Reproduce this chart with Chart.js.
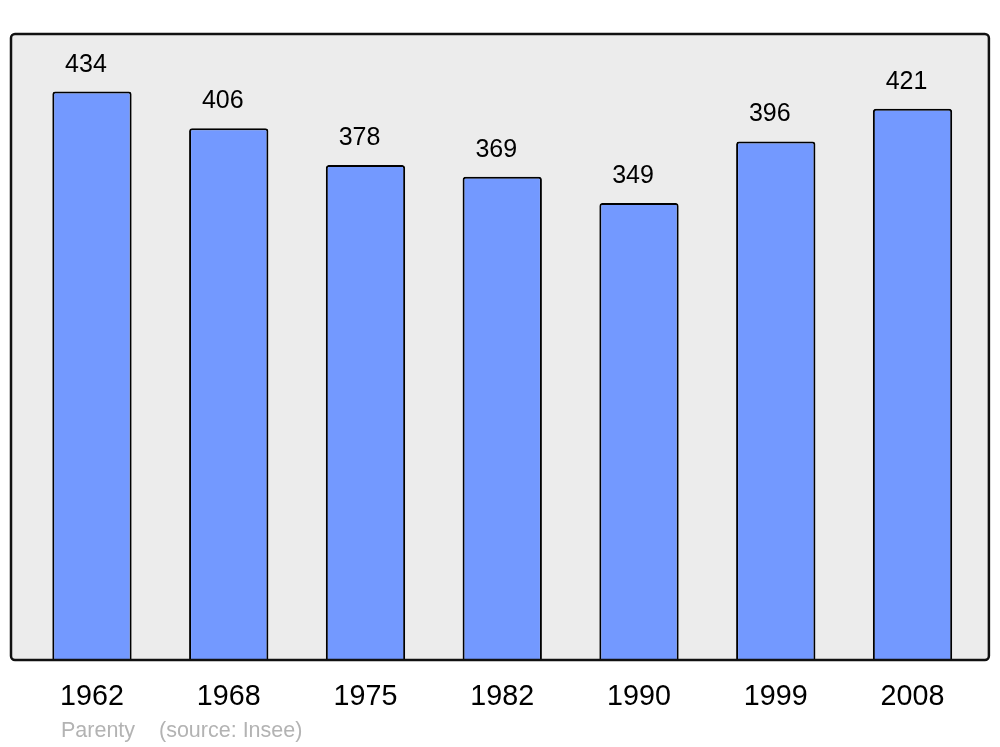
<!DOCTYPE html>
<html>
<head>
<meta charset="utf-8">
<script src="https://cdn.jsdelivr.net/npm/chart.js@4/dist/chart.umd.min.js"></script>
<style>
  html, body { margin: 0; padding: 0; background: #fff; }
  #wrap { width: 1000px; height: 747px; }
</style>
</head>
<body>
<div id="wrap"><canvas id="popChart" width="1000" height="747"></canvas></div>
<script>
// Data
const years = ['1962', '1968', '1975', '1982', '1990', '1999', '2008'];
const population = [434, 406, 378, 369, 349, 396, 421];
const footerName = 'Parenty';
const footerSource = '(source: Insee)';

const FONT = "'Liberation Sans', Arial, sans-serif";

// gray frame behind the bars, border stroked after bars
const framePlugin = {
    id: 'frame',
    framePath(chart) {
        const a = chart.chartArea;
        const x = a.left - 12.6, y = a.top, w = (a.right + 8) - x, h = a.bottom - a.top;
        const c = chart.ctx;
        c.beginPath();
        c.roundRect(x, y, w, h, 4);
    },
    beforeDatasetsDraw(chart) {
        const c = chart.ctx;
        c.save();
        this.framePath(chart);
        c.fillStyle = '#ececec';
        c.fill();
        c.restore();
    },
    afterDatasetsDraw(chart) {
        const c = chart.ctx;
        c.save();
        this.framePath(chart);
        c.lineWidth = 2.5;
        c.strokeStyle = '#111';
        c.stroke();

        // value labels above bars (sit a little left of the bar centre)
        const meta = chart.getDatasetMeta(0);
        c.fillStyle = '#000';
        c.font = '25px ' + FONT;
        c.textAlign = 'center';
        c.textBaseline = 'middle';
        meta.data.forEach((bar, i) => {
            c.fillText(String(population[i]), bar.x - 6, bar.y - 27);
        });

        // footer
        c.fillStyle = '#b3b3b3';
        c.font = '21.5px ' + FONT;
        c.textAlign = 'left';
        c.fillText(footerName, 61, 731);
        c.fillText(footerSource, 159, 731);
        c.restore();
    }
};

const ctx = document.getElementById('popChart').getContext('2d');
const popChart = new Chart(ctx, {
    type: 'bar',
    data: {
        labels: years,
        datasets: [{
            data: population,
            backgroundColor: '#7399ff',
            borderColor: '#000',
            borderWidth: 2,
            borderSkipped: 'bottom',
            borderRadius: { topLeft: 3, topRight: 3 },
            barPercentage: 0.58,
            categoryPercentage: 1
        }]
    },
    options: {
        responsive: false,
        animation: false,
        layout: { padding: { left: 23.6, right: 19.1, top: 34, bottom: 13.6 } },
        plugins: {
            legend: { display: false },
            tooltip: { enabled: false },
            title: { display: false }
        },
        scales: {
            x: {
                grid: { display: false, drawTicks: false },
                border: { display: false },
                ticks: {
                    color: '#000',
                    font: { family: FONT, size: 28.7 },
                    padding: 19.5,
                    maxRotation: 0
                }
            },
            y: {
                display: false,
                min: 0,
                max: 478
            }
        }
    },
    plugins: [framePlugin]
});
</script>
</body>
</html>
